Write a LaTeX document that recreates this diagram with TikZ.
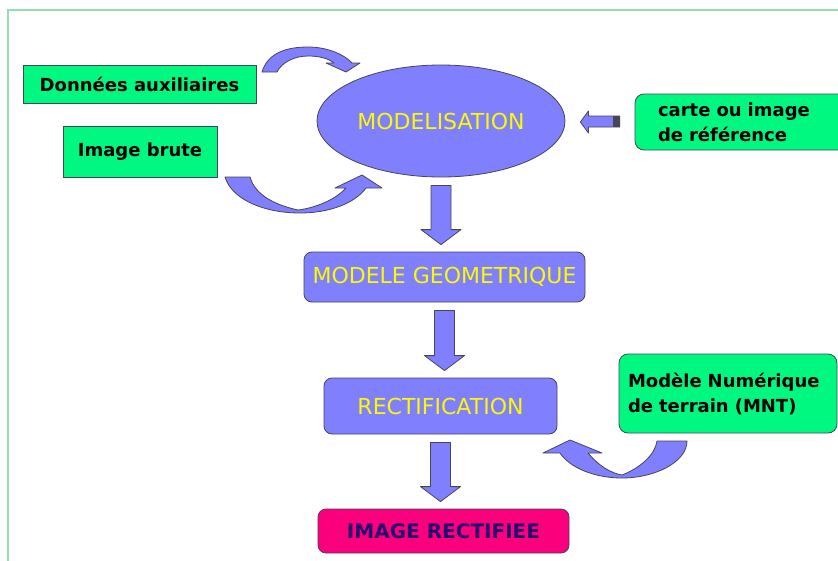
\documentclass[tikz,border=0pt]{standalone}
\usepackage{fontspec}
\setmainfont{DejaVu Sans}
\usetikzlibrary{calc,shapes.geometric}
\definecolor{blu}{RGB}{128,128,255}
\definecolor{grn}{RGB}{0,248,128}
\definecolor{mag}{RGB}{250,0,125}
\definecolor{frm}{RGB}{150,220,180}
\definecolor{edgec}{RGB}{70,70,85}
\definecolor{ylw}{RGB}{250,250,0}
\definecolor{navyc}{RGB}{40,0,110}
\tikzset{
  greenbox/.style={draw=edgec, fill=grn, line width=0.8pt, inner sep=0pt,
    font=\fontsize{18}{25}\selectfont\bfseries, text=black},
  bluebox/.style={draw=edgec, fill=blu, line width=0.8pt, rounded corners=8pt, inner sep=0pt,
    font=\fontsize{22}{26}\selectfont, text=ylw},
  blk/.style={draw=edgec, fill=blu, line width=0.8pt, line join=round}
}
\newcommand\blockdown[2]{\draw[blk] let \p1=(#1.south), \p2=(#2.north) in
  (\x1-10pt,\y1-8pt) -- (\x1+10pt,\y1-8pt) -- (\x1+10pt,\y2+22pt) -- (\x1+20pt,\y2+22pt)
  -- (\x1,\y2+7pt) -- (\x1-20pt,\y2+22pt) -- (\x1-10pt,\y2+22pt) -- cycle;}
\begin{document}
\begin{tikzpicture}[x=1pt,y=-1pt]
\useasboundingbox (0,0) rectangle (838,560);
\begin{scope}
\clip (0,0) rectangle (838,560);
\fill[white] (0,0) rectangle (838,560);
\draw[frm, line width=2.2pt] (8,10) rectangle (870,590);

% nodes
\node[greenbox, minimum width=233pt, minimum height=38pt] (aux) at (139.5,84) {Données auxiliaires};
\node[greenbox, minimum width=154pt, minimum height=51pt] (brute) at (140,151.5) {Image brute};
\node[ellipse, draw=edgec, fill=blu, line width=0.8pt, minimum width=248pt, minimum height=112pt,
  inner sep=0pt, font=\fontsize{22}{26}\selectfont, text=ylw] (model) at (441,121) {MODELISATION};
\node[greenbox, rounded corners=9pt, minimum height=56pt, text width=169pt, align=left,
  inner xsep=23pt] (carte) at (742.5,122) {carte ou image\\de référence};
\node[greenbox, rounded corners=9pt, minimum height=79pt, text width=200pt, align=left,
  inner xsep=9pt] (mnt) at (728,393.5) {Modèle Numérique\\de terrain (MNT)};
\node[bluebox, minimum width=281pt, minimum height=50pt] (geo) at (444.5,277) {MODELE GEOMETRIQUE};
\node[bluebox, minimum width=233pt, minimum height=56pt] (rect) at (440.5,406) {RECTIFICATION};
\node[bluebox, fill=mag, text=navyc, font=\fontsize{20}{24}\selectfont\bfseries,
  minimum width=251pt, minimum height=44pt] (res) at (443.5,531) {IMAGE RECTIFIEE};

% straight block arrows
\blockdown{model}{geo}
\blockdown{geo}{rect}
\blockdown{rect}{res}

% small arrow from carte to model
\draw[blk] let \p1=(carte.west), \p2=(model.east) in
  (\x2+15pt,\y1) -- (\x2+23pt,\y1+11pt) -- (\x2+23pt,\y1+6pt) -- (\x1-15pt,\y1+6pt)
  -- (\x1-15pt,\y1-5pt) -- (\x2+23pt,\y1-5pt) -- (\x2+23pt,\y1-11pt) -- cycle;
\fill[edgec] let \p1=(carte.west) in (\x1-22pt,\y1+6pt) rectangle (\x1-15pt,\y1-5pt);

% curved arrow from aux (top)
\draw[blk] (262,72) .. controls (268,52) and (288,47) .. (308,47)
  .. controls (328,47) and (345,55) .. (352,63) -- (360,63) -- (346,72) -- (326,63) -- (334,63)
  .. controls (328,58) and (318,56) .. (308,56) .. controls (295,56) and (282,62) .. (277,72) -- cycle;

% curved arrow from brute (bottom)
\draw[blk] (225,177) .. controls (232,200) and (265,213) .. (300,213)
  .. controls (330,213) and (355,203) .. (366,188) -- (382,188) -- (362,175) -- (335,188) -- (346,188)
  .. controls (335,200) and (315,208) .. (298,210) .. controls (275,205) and (255,195) .. (250,177) -- cycle;

% curved arrow from mnt to rect
\draw[blk] (687,441) .. controls (687,462) and (655,478) .. (622,478)
  .. controls (595,478) and (570,468) .. (560,453) -- (543,453) -- (570,440) -- (602,453) -- (588,453)
  .. controls (598,465) and (610,473) .. (622,475) .. controls (640,468) and (655,455) .. (657,441) -- cycle;
\end{scope}
\end{tikzpicture}
\end{document}
